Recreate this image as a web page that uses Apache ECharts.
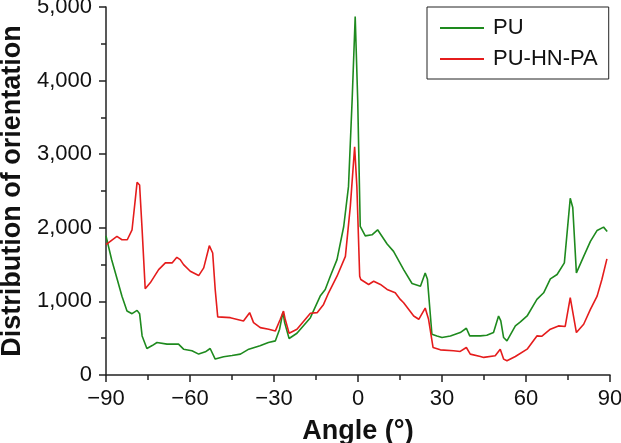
<!DOCTYPE html>
<html>
<head>
<meta charset="utf-8">
<script src="https://cdn.jsdelivr.net/npm/echarts@6/dist/echarts.min.js"></script>
<style>html,body{margin:0;padding:0;background:#fff}#c{width:621px;height:443px}</style>
</head>
<body>
<div id="c"></div>
<script>
const seriesNames = ['PU', 'PU-HN-PA'];
const xTicks = [-90, -60, -30, 0, 30, 60, 90];
const yTicks = [0, 1000, 2000, 3000, 4000, 5000];

const puAngles = [-90,-88,-86,-84.3,-82.5,-80.7,-78.9,-78,-77.1,-75.4,-73.5,-71.8,-68.2,-64.1,-62.3,-59.3,-56.9,-54.5,-52.8,-51,-48,-45,-42,-39,-35,-32,-29.5,-28,-26.8,-26.2,-24.6,-21.8,-17,-13.5,-11.7,-9.9,-7.5,-5.1,-3.4,-2.1,-1,-0.1,0.8,2.6,5,7,10.4,12.7,16.3,19.3,22.3,24,24.8,26.4,28.2,30,33,36.5,38.7,39.9,43.7,46,48.4,50.2,51,52,53.2,56.2,58,60.4,63.9,66.3,68.7,71.1,73.7,75.8,76.7,78,80.6,83,85.4,87.7,89];
const puValues = [1890,1570,1300,1070,870,833,878,833,531,360,400,441,419,419,351,329,284,315,360,216,248,265,284,351,396,441,464,622,856,712,496,567,779,1072,1162,1342,1568,2018,2559,3730,4870,3730,2018,1890,1905,1973,1780,1680,1432,1243,1207,1387,1300,554,531,509,531,577,635,531,531,540,577,802,735,509,464,667,721,802,1027,1117,1306,1365,1523,2401,2275,1387,1612,1815,1964,2009,1950];

const hnAngles = [-90,-88,-86.1,-84.3,-82.4,-80.7,-79.5,-78.9,-78,-77.1,-76,-74.2,-71.2,-68.8,-66.4,-66,-64.7,-63.5,-62.3,-59.9,-56.9,-55.1,-53.1,-51.9,-51,-50.1,-45.6,-40.9,-40.6,-38.7,-37.3,-34.9,-31.9,-29.5,-27.75,-26.6,-26,-24.6,-21.8,-17,-14.6,-12.3,-10.5,-7.5,-4.5,-2.75,-1.2,-0.4,0.6,1,3.8,5.6,8,10.4,13.3,15.1,16.3,19.9,21.7,24,25.2,26.8,29.4,34.1,36.5,38.7,40.1,43.7,44.9,49,50.8,52,53.2,56.2,60.4,63.9,65.7,68.7,71.6,74,75.8,78,80.6,83,85.4,87.1,88.9];
const hnValues = [1770,1830,1883,1838,1838,1973,2400,2617,2581,1973,1171,1252,1432,1523,1523,1500,1599,1568,1500,1410,1351,1455,1757,1658,1162,790,779,734,725,847,712,644,622,599,757,869,757,567,622,840,847,959,1117,1342,1612,2288,3099,2558,1342,1297,1230,1274,1230,1162,1117,1027,982,802,757,910,757,374,342,329,320,374,284,252,239,261,351,216,193,252,351,531,527,622,667,660,1050,577,689,892,1072,1297,1577];

const zip = (a, b) => a.map((x, i) => [x, b[i]]);
const FONT = 'Liberation Sans, Arial, sans-serif';
const axisColor = '#222';
const GREEN = '#1e8a1e';
const RED = '#e51c1c';

const chart = echarts.init(document.getElementById('c'), null, {renderer: 'canvas'});
chart.setOption({
  animation: false,
  backgroundColor: '#fff',
  grid: {left: 106, right: 11, top: 7, bottom: 68, outerBoundsMode: 'none', containLabel: false},
  legend: {
    orient: 'vertical',
    left: 427, top: 7,
    data: seriesNames.map(n => ({name: n, icon: 'rect'})),
    itemWidth: 44, itemHeight: 2,
    itemGap: 9,
    padding: [10, 11, 9, 13],
    borderColor: '#222', borderWidth: 1,
    textStyle: {fontFamily: FONT, fontSize: 22, color: '#111', lineHeight: 22, padding: [0, 0, 0, 4]}
  },
  xAxis: {
    type: 'value', min: -90, max: 90, interval: 30,
    name: 'Angle (°)', nameLocation: 'middle', nameGap: 43,
    nameTextStyle: {fontFamily: FONT, fontSize: 27, fontWeight: 'bold', color: '#111'},
    axisLine: {onZero: false, lineStyle: {color: axisColor, width: 1.5}},
    axisTick: {length: 7, lineStyle: {color: axisColor, width: 1.5}},
    minorTick: {show: true, splitNumber: 2, length: 5, lineStyle: {color: axisColor, width: 1.5}},
    splitLine: {show: false},
    axisLabel: {
      fontFamily: FONT, fontSize: 22, color: '#111', margin: 13,
      formatter: v => xTicks.includes(v) ? (v < 0 ? '\u2212' + Math.abs(v) : String(v)) : ''
    }
  },
  yAxis: {
    type: 'value', min: 0, max: 5000, interval: 1000,
    name: 'Distribution of orientation', nameLocation: 'middle', nameGap: 79,
    nameTextStyle: {fontFamily: FONT, fontSize: 27, fontWeight: 'bold', color: '#111'},
    axisLine: {show: true, onZero: false, lineStyle: {color: axisColor, width: 1.5}},
    axisTick: {show: true, length: 7, lineStyle: {color: axisColor, width: 1.5}},
    minorTick: {show: true, splitNumber: 2, length: 5, lineStyle: {color: axisColor, width: 1.5}},
    splitLine: {show: false},
    axisLabel: {
      fontFamily: FONT, fontSize: 22, color: '#111', margin: 14,
      formatter: v => yTicks.includes(v) ? v.toLocaleString('en-US') : ''
    }
  },
  series: [
    {name: seriesNames[0], type: 'line', data: zip(puAngles, puValues), symbol: 'none',
     lineStyle: {color: GREEN, width: 1.6}, itemStyle: {color: GREEN}},
    {name: seriesNames[1], type: 'line', data: zip(hnAngles, hnValues), symbol: 'none',
     lineStyle: {color: RED, width: 1.6}, itemStyle: {color: RED}}
  ]
});
</script>
</body>
</html>
